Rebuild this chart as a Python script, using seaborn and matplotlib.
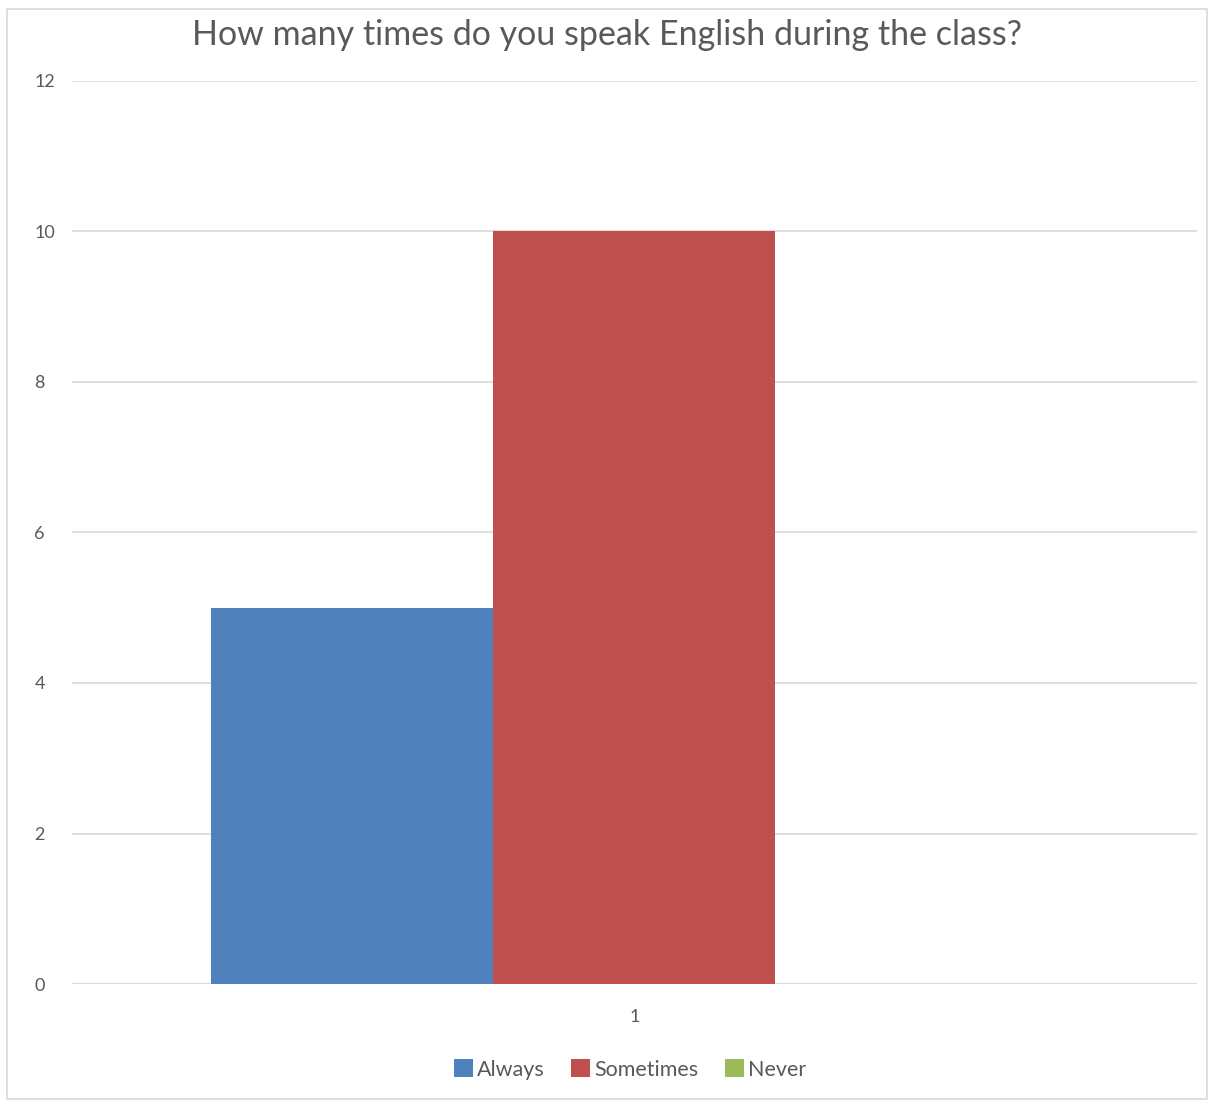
import pandas as pd
import matplotlib.pyplot as plt
import seaborn as sns
from matplotlib.patches import Rectangle

# values
categories = ["1"]
responses = ["Always", "Sometimes", "Never"]
counts = [5, 10, 0]
colors = ["#4F81BD", "#C0504D", "#9BBB59"]
y_ticks = [0, 2, 4, 6, 8, 10, 12]


def plot_responses(output_path="out.png"):
    df = pd.DataFrame({
        "Category": categories * len(responses),
        "Response": responses,
        "Count": counts,
    })

    sns.set_theme(style="white")
    plt.rcParams["font.family"] = ["Lato", "DejaVu Sans"]

    fig = plt.figure(figsize=(12.14, 11.06), dpi=100)
    ax = fig.add_axes([0.0593, 0.1103, 0.9267, 0.8165])

    sns.barplot(data=df, x="Category", y="Count", hue="Response",
                hue_order=responses, palette=colors, width=0.752,
                saturation=1, linewidth=0, ax=ax, legend=True)

    ax.set_xlim(-0.5, 0.5)
    ax.set_ylim(0, 12)
    ax.set_yticks(y_ticks)
    ax.set_yticklabels([str(t) for t in y_ticks])
    ax.yaxis.grid(True, color="#D9D9D9", linewidth=1.2)
    ax.set_axisbelow(True)
    for side in ["top", "right", "left", "bottom"]:
        ax.spines[side].set_visible(False)
    ax.axhline(0, color="#D9D9D9", linewidth=1.2, zorder=0)

    ax.set_xlabel("")
    ax.set_ylabel("")
    ax.tick_params(axis="y", length=0, pad=27, labelsize=13, labelcolor="#595959")
    ax.tick_params(axis="x", length=0, pad=18, labelsize=13, labelcolor="#595959")
    for lbl in ax.get_yticklabels():
        lbl.set_horizontalalignment("left")

    fig.text(0.5, 0.968, "How many times do you speak English during the class?",
             ha="center", va="center", fontsize=24.5, color="#595959")

    handles, labels = ax.get_legend_handles_labels()
    ax.legend_.remove()
    fig.legend(handles, labels, loc="center", bbox_to_anchor=(0.519, 0.033),
               ncol=3, frameon=False, fontsize=15.5, handlelength=0.9,
               handleheight=0.9, handletextpad=0.2, columnspacing=1.2,
               labelcolor="#595959")

    fig.patches.append(Rectangle((0.006, 0.006), 0.988, 0.986,
                                 transform=fig.transFigure, fill=False,
                                 edgecolor="#D9D9D9", linewidth=1.2))

    fig.savefig(output_path, dpi=100)


if __name__ == "__main__":
    plot_responses()
